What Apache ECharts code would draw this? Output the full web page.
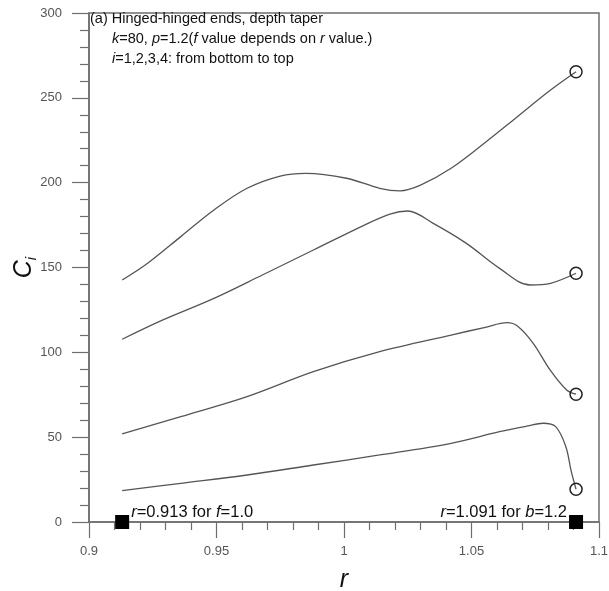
<!DOCTYPE html>
<html>
<head>
<meta charset="utf-8">
<script src="https://cdn.jsdelivr.net/npm/echarts@6/dist/echarts.min.js"></script>
<style>html,body{margin:0;padding:0;background:#fff;}#c{width:609px;height:591px;}</style>
</head>
<body>
<div id="c"></div>
<script>
// ---- data ----
const r1 = [0.913, 0.936, 0.962, 0.988, 1.014, 1.042, 1.061, 1.072, 1.078, 1.083, 1.087, 1.089, 1.091];
const c1 = [18.5, 22.8, 27.7, 33.6, 39.5, 46.4, 53.2, 56.6, 58.2, 56.2, 44.4, 30.6, 19.3];

const r2 = [0.913, 0.936, 0.962, 0.988, 1.014, 1.042, 1.055, 1.064, 1.068, 1.0742, 1.0808, 1.0873, 1.091];
const c2 = [51.9, 62.1, 73.9, 88.6, 100.4, 110.2, 114.6, 117.5, 115.5, 105.3, 89.6, 77.8, 75.3];

const r3 = [0.913, 0.929, 0.949, 0.968, 0.988, 1.008, 1.018, 1.025, 1.035, 1.048, 1.061, 1.073, 1.081, 1.091];
const c3 = [107.7, 119.1, 131.8, 145.6, 160.3, 175.0, 181.5, 183.3, 176.0, 164.2, 149.5, 139.7, 140.7, 146.6];

const r4 = [0.913, 0.923, 0.936, 0.949, 0.962, 0.975, 0.985, 1.001, 1.014, 1.022, 1.030, 1.042, 1.055, 1.068, 1.081, 1.091];
const c4 = [142.6, 152.5, 168.2, 183.9, 196.7, 203.9, 205.5, 202.6, 196.7, 195.2, 198.6, 208.5, 223.2, 238.9, 254.6, 265.4];

const squareR = [0.913, 1.091];
const squareC = [0, 0];
const squareLabels = ['{i|r}=0.913 for {i|f}=1.0', '{i|r}=1.091 for {i|b}=1.2'];

const xTicks = [0.9, 0.95, 1, 1.05, 1.1];
const yTicks = [0, 50, 100, 150, 200, 250, 300];

const titleLines = [
  '(a) Hinged-hinged ends, depth taper',
  '{i|k}=80, {i|p}=1.2({i|f} value depends on {i|r} value.)',
  '{i|i}=1,2,3,4: from bottom to top'
];

// ---- build ----
const zip = (xs, ys) => xs.map((x, k) => [x, ys[k]]);
const curves = [zip(r1, c1), zip(r2, c2), zip(r3, c3), zip(r4, c4)];
const ends = curves.map(c => c[c.length - 1]);

const lineColor = '#555';
const axisColor = '#6e6e6e';
const font = 'Liberation Sans, Arial, sans-serif';
const italicRich = { i: { fontStyle: 'italic', fontFamily: font, fontSize: 14.5, color: '#111' } };
const italicRichBig = { i: { fontStyle: 'italic', fontFamily: font, fontSize: 16.5, color: '#111' } };

const chart = echarts.init(document.getElementById('c'), null, { renderer: 'canvas' });

const series = curves.map(d => ({
  type: 'line',
  data: d,
  smooth: 0.35,
  showSymbol: false,
  symbol: 'none',
  lineStyle: { color: lineColor, width: 1.3 },
  silent: true,
  z: 2
}));

series.push({
  type: 'scatter',
  data: ends,
  symbol: 'circle',
  symbolSize: 12,
  itemStyle: { color: 'rgba(255,255,255,0)', borderColor: '#222', borderWidth: 1.5, opacity: 1 },
  z: 3
});

series.push({
  type: 'scatter',
  data: squareR.map((x, k) => ({
    value: [x, squareC[k]],
    label: {
      show: true,
      formatter: squareLabels[k],
      position: k === 0 ? 'right' : 'left',
      distance: 2,
      offset: [0, -10],
      fontFamily: font,
      fontSize: 16.5,
      color: '#111',
      rich: italicRichBig
    }
  })),
  symbol: 'rect',
  symbolSize: 14,
  itemStyle: { color: '#000', opacity: 1 },
  clip: false,
  z: 5
});

const option = {
  animation: false,
  backgroundColor: '#fff',
  grid: {
    left: 89, right: 10, top: 13, bottom: 69,
    containLabel: false,
    outerBoundsMode: 'none',
    show: true, borderColor: axisColor, borderWidth: 1.5, backgroundColor: 'transparent'
  },
  xAxis: {
    type: 'value',
    min: xTicks[0], max: xTicks[xTicks.length - 1], interval: 0.05,
    name: '{n|r}',
    nameLocation: 'middle',
    nameGap: 46,
    nameTextStyle: { rich: { n: { fontSize: 25, fontStyle: 'italic', fontFamily: font, color: '#111' } } },
    axisLine: { show: true, onZero: false, lineStyle: { color: axisColor, width: 1.5 } },
    axisTick: { show: true, inside: false, length: 16, lineStyle: { color: axisColor, width: 1.2 } },
    minorTick: { show: true, splitNumber: 5, length: 8, lineStyle: { color: axisColor, width: 1.2 } },
    splitLine: { show: false },
    axisLabel: {
      margin: 23, color: '#555', fontSize: 13, fontFamily: font,
      formatter: v => String(parseFloat(v.toFixed(3)))
    }
  },
  yAxis: {
    type: 'value',
    min: yTicks[0], max: yTicks[yTicks.length - 1], interval: 50,
    name: '{c|C}{s|i}',
    nameLocation: 'middle',
    nameGap: 50,
    nameMoveOverlap: false,
    nameRotate: 90,
    nameTextStyle: {
      rich: {
        c: { fontSize: 25, fontStyle: 'italic', fontFamily: font, color: '#111', lineHeight: 30 },
        s: { fontSize: 15, fontStyle: 'italic', fontFamily: font, color: '#111', verticalAlign: 'bottom', lineHeight: 30 }
      }
    },
    axisLine: { show: true, onZero: false, lineStyle: { color: axisColor, width: 1.5 } },
    axisTick: { show: true, inside: false, length: 17, lineStyle: { color: axisColor, width: 1.2 } },
    minorTick: { show: true, splitNumber: 5, length: 9, lineStyle: { color: axisColor, width: 1.2 } },
    splitLine: { show: false },
    axisLabel: { margin: 27, color: '#555', fontSize: 13, fontFamily: font }
  },
  graphic: titleLines.map((t, k) => ({
    type: 'text',
    left: k === 0 ? 90 : 112,
    top: 11 + k * 20,
    style: {
      text: t,
      fontFamily: font,
      fontSize: 14.5,
      fill: '#111',
      rich: italicRich
    },
    z: 10
  })),
  series: series
};
chart.setOption(option);
</script>
</body>
</html>
